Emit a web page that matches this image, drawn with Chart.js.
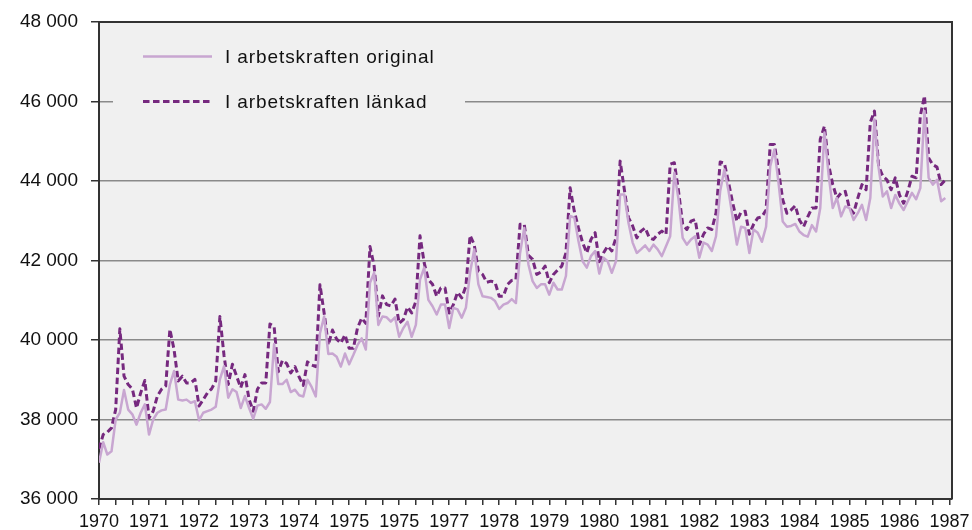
<!DOCTYPE html>
<html>
<head>
<meta charset="utf-8">
<script src="https://cdn.jsdelivr.net/npm/chart.js@4"></script>
<style>
html,body{margin:0;padding:0;background:#fff;}
#wrap{width:972px;height:530px;position:relative;}
</style>
</head>
<body>
<div id="wrap"><canvas id="c" width="972" height="530"></canvas></div>
<script>
const yearLabels = ['1970','1971','1972','1973','1974','1975','1975','1977','1978','1979','1980','1981','1982','1983','1984','1985','1986','1987'];
const seriesNames = ['I arbetskraften original','I arbetskraften länkad'];
const yTicks = [36000,38000,40000,42000,44000,46000,48000];

// monthly values Jan 1970 .. Dec 1986
const original = [
36910,37430,37120,37200,38000,38170,38740,38250,38130,37870,38170,38380,
37620,38000,38170,38230,38250,38880,39220,38500,38480,38500,38420,38460,
37980,38170,38210,38250,38320,39010,39340,38550,38760,38690,38290,38590,
38290,38020,38350,38380,38270,38440,39900,38890,38890,39000,38690,38750,
38610,38580,39000,38820,38580,40170,40590,39650,39660,39580,39330,39660,
39390,39620,39870,40040,39760,41440,41690,40380,40590,40570,40460,40570,
40080,40300,40460,40080,40380,41520,41820,41010,40850,40640,40890,40890,
40300,40810,40770,40560,40810,41690,42280,41400,41100,41080,41060,40980,
40780,40890,40930,41030,40930,42190,42820,41900,41480,41310,41400,41400,
41140,41440,41270,41270,41610,43120,43080,42490,41980,41820,42110,42240,
41670,42070,41980,41690,41980,43660,43660,42950,42450,42190,42280,42380,
42240,42400,42280,42110,42360,42610,44210,43540,42570,42400,42530,42610,
42070,42450,42400,42240,42610,43750,44290,43750,43080,42400,42850,42820,
42190,42780,42700,42470,42850,44370,44790,43950,42980,42850,42870,42920,
42730,42640,42600,42890,42730,43320,45220,44160,43320,43570,43110,43360,
43320,43020,43190,43400,43020,43570,45550,44330,43610,43740,43320,43650,
43430,43270,43490,43700,43540,43820,45760,44080,43910,44030,43490,43570
];
const linked = [
37260,37620,37680,37790,38250,40280,39090,38880,38770,38290,38670,38980,
38040,38210,38590,38760,38840,40270,39760,38970,39090,38920,38920,39010,
38340,38500,38670,38770,38970,40590,39600,38880,39390,39090,38800,39130,
38500,38210,38760,38920,38920,40400,40340,39200,39490,39410,39170,39330,
39070,38860,39450,39370,39330,41390,40680,39870,40250,40020,39920,40130,
39790,39790,40300,40550,40420,42350,41860,40590,41110,40890,40860,41030,
40420,40510,40830,40680,40970,42620,41940,41520,41400,41100,41310,41310,
40680,40890,41200,41060,41350,42630,42400,41730,41650,41450,41480,41450,
41100,41100,41400,41500,41520,42910,42910,42130,42030,41650,41710,41860,
41440,41650,41760,41860,42190,43830,43240,42820,42450,42190,42530,42700,
41970,42190,42360,42240,42570,44500,43790,43080,42870,42570,42740,42820,
42570,42530,42660,42740,42660,44420,44460,43750,42910,42780,42990,43030,
42400,42660,42820,42780,43200,44480,44450,43960,43450,42990,43220,43240,
42660,42910,43070,43100,43270,44920,44920,44250,43530,43190,43270,43380,
43020,42850,43100,43320,43320,45050,45380,44410,43910,43570,43700,43740,
43320,43190,43570,43910,43780,45470,45760,44370,44120,44030,43780,44080,
43650,43440,43740,44120,44080,45640,46140,44580,44410,44350,43910,44030
];

const colOrig = '#c8a6d1';
const colLink = '#76297f';
const dark = '#333333';
const gridCol = '#8a8a8a';
const plotBg = '#f0f0f0';
const FONT = "'Liberation Sans', Arial, sans-serif";

function fmt(v){ return String(v).replace(/\B(?=(\d{3})+(?!\d))/g,' '); }

const bgPlugin = {
  id:'bg',
  beforeDraw(chart){
    const a = chart.chartArea, ctx = chart.ctx;
    ctx.save(); ctx.fillStyle = plotBg;
    ctx.fillRect(a.left, a.top, a.right-a.left, a.bottom-a.top);
    ctx.restore();
  },
  beforeDatasetsDraw(chart){
    const ctx = chart.ctx;
    ctx.save();
    ctx.fillStyle = plotBg;
    ctx.fillRect(113, 30, 352, 95);
    const rows = [56.5, 101.5];
    chart.data.datasets.forEach((ds,k)=>{
      ctx.beginPath();
      ctx.strokeStyle = ds.borderColor;
      ctx.lineWidth = ds.borderWidth;
      ctx.setLineDash(ds.borderDash || []);
      ctx.moveTo(143, rows[k]); ctx.lineTo(212, rows[k]);
      ctx.stroke();
      ctx.setLineDash([]);
      ctx.fillStyle = '#111';
      ctx.font = '19px ' + FONT;
      if ('letterSpacing' in ctx) ctx.letterSpacing = '0.9px';
      ctx.textBaseline = 'middle';
      ctx.textAlign = 'left';
      ctx.fillText(ds.label, 225, rows[k]+1);
      if ('letterSpacing' in ctx) ctx.letterSpacing = '0px';
    });
    ctx.restore();
  },
  afterDraw(chart){
    const a = chart.chartArea, ctx = chart.ctx;
    ctx.save();
    ctx.strokeStyle = dark; ctx.lineWidth = 2;
    ctx.beginPath();
    ctx.moveTo(a.left, a.top); ctx.lineTo(a.right, a.top); ctx.lineTo(a.right, a.bottom);
    ctx.stroke();
    ctx.restore();
  }
};

new Chart(document.getElementById('c'), {
  type:'line',
  data:{
    datasets:[
      {label:seriesNames[0], data: original.map((v,i)=>({x:i,y:v})), borderColor:colOrig, borderWidth:2.5, borderJoinStyle:'round', pointRadius:0, tension:0, fill:false},
      {label:seriesNames[1], data: linked.map((v,i)=>({x:i,y:v})), borderColor:colLink, borderWidth:3, borderJoinStyle:'round', borderDash:[6.5,3.5], pointRadius:0, tension:0, fill:false}
    ]
  },
  options:{
    responsive:false,
    animation:false,
    layout:{padding:{left:0,top:22,right:20,bottom:0}},
    plugins:{legend:{display:false}, tooltip:{enabled:false}},
    scales:{
      x:{
        type:'linear', min:0, max:204.6,
        afterFit(s){ s.height = 31; s.paddingRight = 0; s.paddingLeft = 0; },
        border:{color:dark, width:2},
        grid:{drawOnChartArea:false, drawTicks:true, tickLength:6, tickColor:dark, lineWidth:1.5},
        ticks:{
          stepSize:4, includeBounds:false, autoSkip:false, maxRotation:0, minRotation:0, padding:6,
          color:'#111', font:{family:FONT, size:18},
          callback(v){ return (v % 12 === 0) ? (yearLabels[v/12] ?? '') : ''; }
        }
      },
      y:{
        min:36000, max:48000,
        afterFit(s){ s.width = 99; s.paddingTop = 0; s.paddingBottom = 0; },
        afterBuildTicks(s){ s.ticks = yTicks.map(v=>({value:v})); },
        border:{color:dark, width:2},
        grid:{
          color(ctx){ return (ctx.tick && ctx.tick.value===48000) ? dark : gridCol; },
          lineWidth:1.5, tickLength:8, tickColor:dark
        },
        ticks:{
          padding:13, color:'#111', font:{family:FONT, size:19},
          callback(v){ return fmt(v); }
        }
      }
    }
  },
  plugins:[bgPlugin]
});
</script>
</body>
</html>
